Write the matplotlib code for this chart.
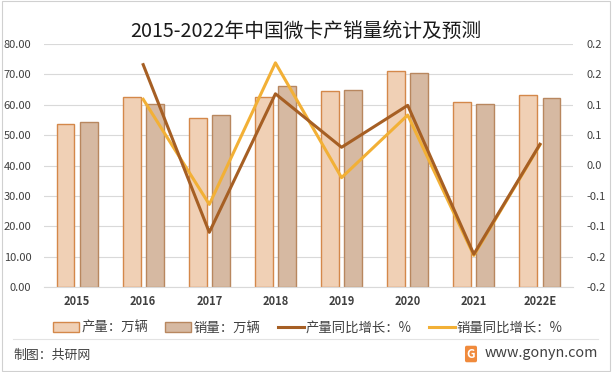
import math

import matplotlib
matplotlib.use("Agg")
import matplotlib.pyplot as plt
import numpy as np
from matplotlib.patches import Patch, Rectangle
from matplotlib.lines import Line2D
from matplotlib.ticker import FixedLocator, FuncFormatter

plt.rcParams["font.family"] = ["Noto Sans CJK SC", "DejaVu Sans"]

years = ["2015", "2016", "2017", "2018", "2019", "2020", "2021", "2022E"]
production = [53.6, 62.4, 55.5, 62.4, 64.4, 71.0, 60.8, 63.1]
sales = [54.3, 60.1, 56.5, 66.2, 64.7, 70.3, 60.1, 62.1]
prod_growth = [None, 0.166, -0.110, 0.118, 0.030, 0.099, -0.146, 0.035]
sales_growth = [None, 0.109, -0.064, 0.169, -0.020, 0.083, -0.148, 0.034]

C_PROD = "#F0D0B5"
C_PROD_EDGE = "#D4884A"
C_SALES = "#D6B9A2"
C_SALES_EDGE = "#B8875F"
C_PG = "#A65F24"
C_SG = "#F2B036"
GRID = "#D9D9D9"
TXT = "#404040"


def one_decimal(v, pos):
    # round half away from zero, like the source spreadsheet
    r = math.copysign(math.floor(abs(v) * 10 + 0.5 + 1e-9) / 10, v)
    if r == 0:
        r = 0.0
    return f"{r:.1f}"


fig = plt.figure(figsize=(6.12, 3.72), dpi=100)
fig.patch.set_facecolor("white")

ax = fig.add_axes([44 / 612, 1 - 287 / 372, 529 / 612, 243 / 372])
x = np.arange(len(years))
w = 0.27
ax.bar(x - 0.175, production, w, color=C_PROD, edgecolor=C_PROD_EDGE, linewidth=1.0, zorder=2)
ax.bar(x + 0.175, sales, w, color=C_SALES, edgecolor=C_SALES_EDGE, linewidth=1.0, zorder=2)

ax.set_xlim(-0.5, len(years) - 0.5)
ax.set_ylim(0, 80)
ax.set_yticks(np.arange(0, 81, 10))
ax.yaxis.set_major_formatter(FuncFormatter(lambda v, p: f"{v:.2f}"))
ax.set_xticks(x)
ax.set_xticklabels(years, fontweight="bold", fontsize=8, color=TXT)
ax.tick_params(axis="y", length=0, labelsize=8, labelcolor=TXT, pad=9)
ax.tick_params(axis="x", length=0, pad=6)
ax.grid(axis="y", color=GRID, linewidth=0.8, zorder=0)
ax.set_axisbelow(True)
for s in ["top", "right", "left"]:
    ax.spines[s].set_visible(False)
ax.spines["bottom"].set_color(GRID)

ax2 = ax.twinx()
ax2.set_ylim(-0.2, 0.2)
ax2.yaxis.set_major_locator(FixedLocator(np.linspace(-0.2, 0.2, 9)))
ax2.yaxis.set_major_formatter(FuncFormatter(one_decimal))
ax2.tick_params(axis="y", length=0, labelsize=8, labelcolor=TXT, pad=10)
for s in ["top", "right", "left", "bottom"]:
    ax2.spines[s].set_visible(False)

xl = x[1:]
ax2.plot(xl, prod_growth[1:], color=C_PG, linewidth=2.2, zorder=4)
ax2.plot(xl, sales_growth[1:], color=C_SG, linewidth=2.2, zorder=3)

fig.text(306 / 612, 1 - 32 / 372, "2015-2022年中国微卡产销量统计及预测", ha="center", va="center",
         fontsize=14.2, color="#1a1a1a")

handles = [
    Patch(facecolor=C_PROD, edgecolor=C_PROD_EDGE, label="产量：万辆"),
    Patch(facecolor=C_SALES, edgecolor=C_SALES_EDGE, label="销量：万辆"),
    Line2D([], [], color=C_PG, linewidth=2.2, label="产量同比增长：%"),
    Line2D([], [], color=C_SG, linewidth=2.2, label="销量同比增长：%"),
]
fig.legend(handles=handles, loc="center", bbox_to_anchor=(308 / 612, 1 - 328 / 372), ncol=4,
           frameon=False, fontsize=9.6, handlelength=1.95, handleheight=0.75,
           columnspacing=1.3, handletextpad=0.15, labelcolor=TXT)

fig.add_artist(Line2D([13 / 612, 598 / 612], [1 - 339 / 372] * 2, color="#E3E3E3", linewidth=0.8,
                      transform=fig.transFigure))
fig.text(13 / 612, 1 - 355 / 372, "制图：共研网", ha="left", va="center", fontsize=9.3, color=TXT)
fig.text(598 / 612, 1 - 353 / 372, "www.gonyn.com", ha="right", va="center", fontsize=10.3, color=TXT)
fig.text(471 / 612, 1 - 354 / 372, "G", ha="center", va="center", fontsize=8.5, color="white",
         fontweight="bold",
         bbox=dict(boxstyle="round,pad=0.15", facecolor="#F08A3C", edgecolor="none"))

fig.add_artist(Rectangle((0.004, 0.003), 0.993, 0.994, transform=fig.transFigure,
                         fill=False, edgecolor="#D0D0D0", linewidth=0.8))

fig.savefig("out.png", dpi=100)
